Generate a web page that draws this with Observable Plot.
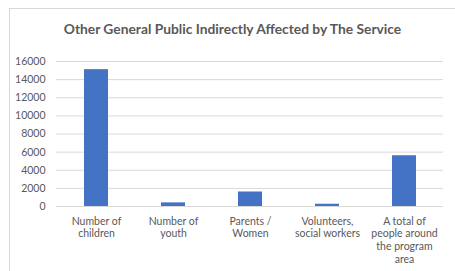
<!DOCTYPE html>
<html>
<head>
<meta charset="utf-8">
<script src="https://cdn.jsdelivr.net/npm/d3@7"></script>
<script src="https://cdn.jsdelivr.net/npm/@observablehq/plot@0.6"></script>
<style>
  html, body { margin: 0; padding: 0; background: #fff; }
  #wrap { position: relative; width: 455px; height: 271px; overflow: hidden; }
  #frame { position: absolute; left: 9px; top: 8px; width: 460px; height: 280px; border: 1px solid #d9d9d9; box-sizing: border-box; }
  #title { position: absolute; left: 0; width: 465px; top: 20px; text-align: center; font-family: Lato, sans-serif; font-weight: bold; font-size: 13.8px; color: #595959; }
  #chart { position: absolute; left: 0; top: 0; }
</style>
</head>
<body>
<div id="wrap">
  <div id="frame"></div>
  <div id="title">Other General Public Indirectly Affected by The Service</div>
  <div id="chart"></div>
</div>
<script>
const categories = ["Number of children", "Number of youth", "Parents / Women", "Volunteers, social workers", "A total of people around the program area"];
const categoryLabels = ["Number of\nchildren", "Number of\nyouth", "Parents /\nWomen", "Volunteers,\nsocial workers", "A total of\npeople around\nthe program\narea"];
const values = [15100, 400, 1600, 250, 5600];
const yTicks = [0, 2000, 4000, 6000, 8000, 10000, 12000, 14000, 16000];

const data = categories.map((c, i) => ({category: c, value: values[i]}));
const labelOf = new Map(categories.map((c, i) => [c, categoryLabels[i]]));

const chart = Plot.plot({
  width: 455,
  height: 271,
  marginTop: 61,
  marginBottom: 65,
  marginLeft: 56,
  marginRight: 12,
  style: {fontFamily: "Lato, sans-serif", fontSize: "10.5px", color: "#595959", background: "transparent"},
  x: {domain: categories, paddingInner: 0.69, paddingOuter: 0.345, align: 0.5},
  y: {domain: [0, 16000]},
  marks: [
    Plot.gridY(yTicks, {stroke: "#d9d9d9", strokeOpacity: 1, strokeWidth: 1}),
    Plot.barY(data, {x: "category", y: "value", fill: "#4472C4"}),
    Plot.axisY(yTicks, {tickSize: 0, tickPadding: 11, label: null, fill: "#595959", tickFormat: d => String(d)}),
    Plot.axisX({tickSize: 0, tickPadding: 9, label: null, fill: "#595959", lineHeight: 1.21, tickFormat: d => labelOf.get(d)})
  ]
});
document.getElementById("chart").appendChild(chart);
</script>
</body>
</html>
